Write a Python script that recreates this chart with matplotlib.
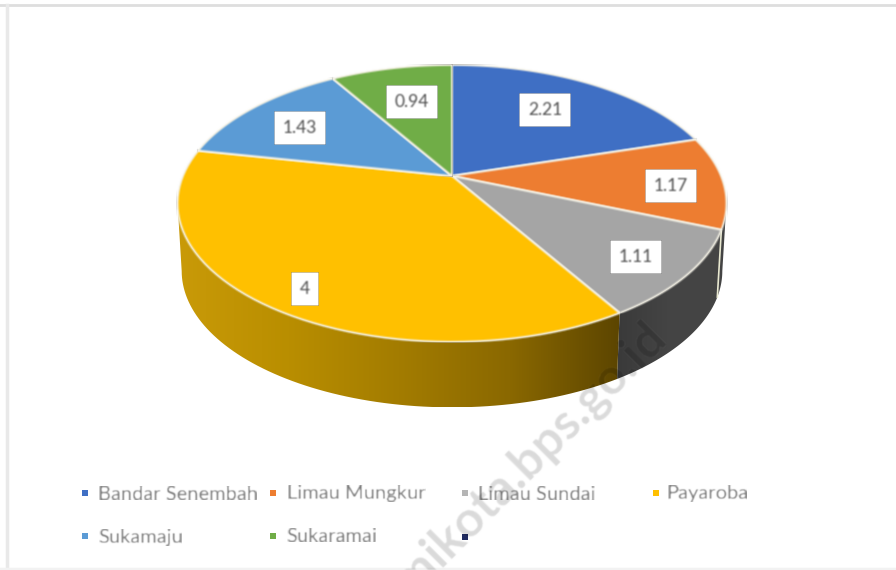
import numpy as np
import matplotlib
matplotlib.use('Agg')
import matplotlib.pyplot as plt
from matplotlib.colors import LinearSegmentedColormap
from matplotlib.patches import Polygon

plt.rcParams['font.family'] = ['Lato', 'DejaVu Sans']

# values
categories = ['Bandar Senembah', 'Limau Mungkur', 'Limau Sundai', 'Payaroba',
              'Sukamaju', 'Sukaramai', '']
values = [2.21, 1.17, 1.11, 4, 1.43, 0.94]
value_labels = ['2.21', '1.17', '1.11', '4', '1.43', '0.94']

top_colors = ['#3f6fc4', '#ed7d31', '#a5a5a5', '#ffc000', '#5b9bd5', '#70ad47']
legend_colors = ['#3f6fc4', '#ed7d31', '#b5b5b5', '#ffc000', '#5b9bd5', '#70ad47', '#1f2a60']

# pixel layout, the axes run in image coordinates
CX, CY = 452, 176
RX, RY = 269, 133
PERSP = 0.198
DEPTH = 68
BOTTOM_SCALE = 0.985

label_xy = [(545, 110), (671, 186), (636, 257), (305, 289), (300, 128), (412, 102)]
legend_marker_xy = [(85, 493), (273, 493), (465, 493), (656, 493),
                    (85, 536), (273, 536), (465, 537)]
legend_text_xy = [(98, 494), (287, 494), (478, 494), (666, 494),
                  (98, 537), (286, 537)]


def rim(t, drop=0, scale=1.0):
    """Project clockwise angles (radians from 12 o'clock) onto the tilted disc."""
    w = 1 + PERSP * np.cos(t)
    return (CX + scale * RX * np.sin(t) / w,
            CY + drop - scale * RY * np.cos(t) / w)


def side_polygon(t0, t1):
    t = np.linspace(t0, t1, 80)
    xt, yt = rim(t)
    xb, yb = rim(t[::-1], drop=DEPTH, scale=BOTTOM_SCALE)
    return np.column_stack([np.r_[xt, xb], np.r_[yt, yb]])


def soften(img, dpi):
    # the reference is a blurry scan, small box blur on rgba
    out = img.copy()
    kernel = np.array([1, 2, 1]) / 4
    for axis in (0, 1):
        out = np.apply_along_axis(lambda v: np.convolve(v, kernel, mode='same'), axis, out)
    return out, 0, 0


fig = plt.figure(figsize=(8.96, 5.70), dpi=100, facecolor='white')
ax = fig.add_axes([0, 0, 1, 1])
ax.set_xlim(0, 896)
ax.set_ylim(570, 0)
ax.axis('off')

# faint frame of the pasted chart
ax.plot([0, 896], [5, 5], color='#dedede', lw=2.0, zorder=0)
ax.plot([7, 7], [5, 570], color='#e9e9e9', lw=2.5, zorder=0)
ax.plot([0, 896], [569, 569], color='#f2f2f2', lw=2.5, zorder=0)

edges = np.r_[0, np.cumsum(values)] / np.sum(values) * 2 * np.pi
t_right = np.arccos(-PERSP)
t_left = 2 * np.pi - t_right

# side walls
gold = LinearSegmentedColormap.from_list(
    'gold', ['#c99a08', '#b98e00', '#a37c00', '#8a6800', '#5c4500'])
dark = LinearSegmentedColormap.from_list('dark', ['#3a3a3a', '#454545', '#444444'])
walls = [(t_right, edges[3], dark), (edges[3], t_left, gold)]
for t0, t1, cmap in walls:
    poly = side_polygon(t0, t1)
    grad = np.linspace(0, 1, 256).reshape(1, -1)
    im = ax.imshow(grad, cmap=cmap, aspect='auto', zorder=1, interpolation='bilinear',
                   extent=[poly[:, 0].min(), poly[:, 0].max(), poly[:, 1].max(), poly[:, 1].min()])
    clip = Polygon(poly, closed=True, transform=ax.transData, facecolor='none', edgecolor='none')
    ax.add_patch(clip)
    im.set_clip_path(clip)
ax.set_xlim(0, 896)
ax.set_ylim(570, 0)

# light seam between yellow and grey walls
x0, y0 = rim(edges[2])
x1, y1 = rim(edges[2], drop=DEPTH, scale=BOTTOM_SCALE)
ax.plot([x0, x1], [y0, y1], color='#e8e8d0', lw=1.2, zorder=2)

# top face
for i, color in enumerate(top_colors):
    t = np.linspace(edges[i], edges[i + 1], 60)
    x, y = rim(t)
    for patch in ax.fill(np.r_[CX, x], np.r_[CY, y], facecolor=color, edgecolor='#f4f1e4',
                         linewidth=1.3, joinstyle='round', zorder=3):
        patch.set_agg_filter(soften)

# data labels
for text, (x, y) in zip(value_labels, label_xy):
    t = ax.text(x, y, text, ha='center', va='center', fontsize=12.5, color='#505050', zorder=5,
                bbox=dict(boxstyle='square,pad=0.5', facecolor='white', edgecolor='none'))
    t.set_agg_filter(soften)

# legend
for (x, y), color in zip(legend_marker_xy, legend_colors):
    ax.scatter([x], [y], s=14, marker='s', color=color, linewidths=0, zorder=4)
for (x, y), text in zip(legend_text_xy, categories):
    t = ax.text(x, y, text, ha='left', va='center', fontsize=14.5, color='#757575', zorder=4)
    t.set_agg_filter(soften)

# watermark
wm = ax.text(530, 458, 'mikota.bps.go.id', rotation=45, rotation_mode='anchor', ha='center', va='center',
             fontsize=36, fontweight='bold', color='black', alpha=0.15, zorder=6)
wm.set_agg_filter(soften)

fig.savefig('out.png', dpi=100)
